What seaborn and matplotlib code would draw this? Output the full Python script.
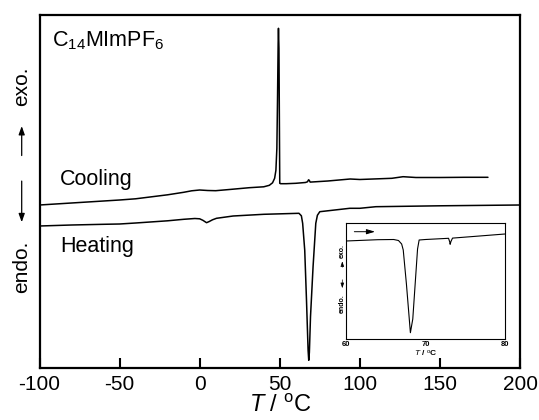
import matplotlib
matplotlib.use("Agg")
import matplotlib.pyplot as plt
import seaborn as sns
import pandas as pd

# ---------------- data ----------------
# Main panel: temperature (°C) and heat-flow signal (arbitrary units)
cool_T = [-100, -80, -60, -50, -40, -20, -10, -5, 0, 5, 10, 20, 31, 40, 43.5,
          45.5, 46.8, 47.6, 48.2, 48.6, 49.0, 49.2, 49.5, 49.8, 50.0, 50.5, 54, 60,
          66, 67.3, 68.0, 68.4, 69.0, 70, 80, 94, 100, 120, 127, 135, 150, 165, 180]
cool_Q = [163.3, 165.3, 167.3, 168.3, 169.5, 173.5, 176.0, 177.5, 178.3, 177.8,
          177.6, 179.0, 180.6, 181.5, 183.0, 185.5, 190.0, 198.0, 220.0, 268.0, 325.0,
          340.0, 320.0, 240.0, 185.0, 184.6, 184.6, 185.0, 185.8, 186.5, 188.5, 188.0,
          186.2, 186.3, 187.3, 189.3, 188.8, 190.0, 191.6, 190.8, 190.8, 191.0, 191.0]

heat_T = [-100, -80, -60, -50, -40, -20, -10, -3, 0, 2, 4.3, 6, 8, 10.5, 20.9,
          40, 62.0, 63.5, 64.3, 65.6, 66.7, 67.7, 68.1, 68.5, 69.2, 70.8, 72.5,
          73.5, 75.0, 93.7, 100, 110, 150, 200]
heat_Q = [142.3, 143.3, 144.0, 144.3, 145.3, 147.5, 149.0, 149.8, 149.5, 148.0,
          145.6, 146.8, 148.5, 150.0, 152.3, 154.0, 155.0, 152.5, 145.0, 118.0,
          68.0, 18.0, 8.0, 16.0, 51.6, 101.6, 145.0, 153.0, 156.6, 160.0, 160.0,
          161.6, 162.5, 163.3]

# Inset: heating scan 60-80 °C
ins_T = [60, 64, 66.0, 66.6, 67.0, 67.2, 67.6, 68.1, 68.4, 68.7, 69.0, 69.2,
         70, 72.9, 73.05, 73.1, 73.2, 73.4, 76, 80]
ins_Q = [98.0, 99.3, 99.5, 98.5, 95.0, 89.0, 55.0, 6.3, 20.0, 55.0, 90.0, 99.0,
         99.5, 100.7, 97.0, 94.7, 97.5, 100.9, 102.5, 105.0]

main_xticks = [-100, -50, 0, 50, 100, 150, 200]
inset_xticks = [60, 70, 80]
inset_minor = [65, 75]

# ---------------- style ----------------
sns.set_style("white")
plt.rcParams["font.family"] = ["Liberation Sans", "DejaVu Sans"]
plt.rcParams["text.color"] = "black"
plt.rcParams["axes.labelcolor"] = "black"
plt.rcParams["xtick.color"] = "black"
plt.rcParams["mathtext.fontset"] = "custom"
plt.rcParams["mathtext.rm"] = "Liberation Sans"
plt.rcParams["mathtext.it"] = "Liberation Sans:italic"
plt.rcParams["mathtext.bf"] = "Liberation Sans:bold"
plt.rcParams["mathtext.default"] = "regular"

W, H = 539, 420
fig = plt.figure(figsize=(W / 100, H / 100), dpi=100)

# main axes in pixel layout
L, R, T, B = 39.5, 520.0, 15.0, 368.3
ax = fig.add_axes([L / W, 1 - B / H, (R - L) / W, (B - T) / H])

df_c = pd.DataFrame({"T": cool_T, "Q": cool_Q})
df_h = pd.DataFrame({"T": heat_T, "Q": heat_Q})
sns.lineplot(data=df_c, x="T", y="Q", ax=ax, color="black", lw=1.1,
             sort=False, estimator=None)
sns.lineplot(data=df_h, x="T", y="Q", ax=ax, color="black", lw=1.1,
             sort=False, estimator=None)

ax.set_xlim(-100, 200)
ax.set_ylim(0, B - T)
ax.set_xticks(main_xticks)
ax.set_xticklabels([str(t) for t in main_xticks])
ax.set_yticks([])
ax.tick_params(axis="x", direction="in", length=7, width=1.5, pad=5,
               labelsize=15, colors="black", bottom=True, top=False)
for s in ax.spines.values():
    s.set_linewidth(1.6)
    s.set_color("black")
ax.set_xlabel(r"$\mathit{T}$ / $^{\mathrm{o}}$C", fontsize=17, labelpad=0.5,
              color="black")
ax.set_ylabel("")

ax.text(-92.4, 321.6, r"C$_{14}$MImPF$_6$", fontsize=15.5, va="baseline", ha="left")
ax.text(-87.0, 183.3, "Cooling", fontsize=15.5, va="baseline", ha="left")
ax.text(-87.2, 116.0, "Heating", fontsize=15.5, va="baseline", ha="left")

# y-label made of text + arrows (figure pixel coords)
def fpx(x, y):
    return (x / W, 1 - y / H)

fig.text(*fpx(21.7, 86.7), "exo.", rotation=90, fontsize=15, ha="center", va="center")
fig.text(*fpx(21.7, 266.7), "endo.", rotation=90, fontsize=15, ha="center", va="center")
arrow_kw = dict(arrowstyle="-|>,head_length=0.5,head_width=0.18", color="black", lw=0.9)
ax.annotate("", xy=fpx(21.7, 123.3), xytext=fpx(21.7, 158.3),
            xycoords="figure fraction", textcoords="figure fraction", arrowprops=arrow_kw)
ax.annotate("", xy=fpx(21.7, 225.0), xytext=fpx(21.7, 178.3),
            xycoords="figure fraction", textcoords="figure fraction", arrowprops=arrow_kw)

# ---------------- inset ----------------
iL, iR, iT, iB = 346.0, 505.0, 222.7, 339.0
axi = fig.add_axes([iL / W, 1 - iB / H, (iR - iL) / W, (iB - iT) / H])
df_i = pd.DataFrame({"T": ins_T, "Q": ins_Q})
sns.lineplot(data=df_i, x="T", y="Q", ax=axi, color="black", lw=0.8,
             sort=False, estimator=None)
axi.set_xlim(60, 80)
axi.set_ylim(0, iB - iT)
axi.set_xticks(inset_xticks)
axi.set_xticks(inset_minor, minor=True)
axi.set_xticklabels([str(t) for t in inset_xticks], fontweight="bold")
axi.set_yticks([])
axi.tick_params(axis="x", which="both", direction="in", length=2, width=0.6,
                pad=1.5, labelsize=5.5, colors="black")
for s in axi.spines.values():
    s.set_linewidth(0.8)
    s.set_color("black")
axi.set_xlabel(r"$\mathbf{\mathit{T}}$ / $^{\mathrm{o}}$C", fontsize=6,
               fontweight="bold", labelpad=0, color="black")
axi.set_ylabel("")
axi.annotate("", xy=(64.0, 107.3), xytext=(60.7, 107.3),
             arrowprops=dict(arrowstyle="-|>,head_length=0.5,head_width=0.15",
                             color="black", lw=0.7))

fig.text(*fpx(342.3, 250.8), "exo.", rotation=90, fontsize=5, fontweight="bold",
         ha="center", va="center")
fig.text(*fpx(342.3, 304.0), "endo.", rotation=90, fontsize=5, fontweight="bold",
         ha="center", va="center")
small_kw = dict(arrowstyle="-|>,head_length=0.3,head_width=0.1", color="black", lw=0.5)
axi.annotate("", xy=fpx(342.3, 258.5), xytext=fpx(342.3, 270.0),
             xycoords="figure fraction", textcoords="figure fraction", arrowprops=small_kw)
axi.annotate("", xy=fpx(342.3, 291.0), xytext=fpx(342.3, 277.0),
             xycoords="figure fraction", textcoords="figure fraction", arrowprops=small_kw)

fig.savefig("out.png", dpi=100)
